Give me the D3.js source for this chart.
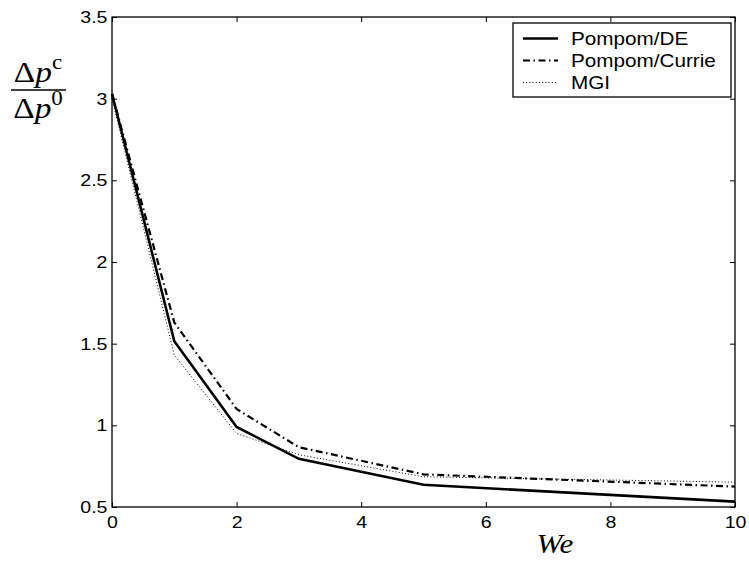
<!DOCTYPE html>
<html>
<head>
<meta charset="utf-8">
<script src="https://cdn.jsdelivr.net/npm/d3@7"></script>
<style>
  body { margin: 0; background: #fff; }
  svg { font-family: "Liberation Sans", Arial, sans-serif; }
</style>
</head>
<body>
<div id="chart"></div>
<script>
// data
const weValues = [0, 1, 2, 3, 5, 10];
const pompomDE = [3.03, 1.515, 0.99, 0.795, 0.636, 0.533];
const pompomCurrie = [3.03, 1.63, 1.10, 0.866, 0.70, 0.625];
const mgi = [3.0, 1.43, 0.95, 0.82, 0.685, 0.652];
const xTicks = [0, 2, 4, 6, 8, 10];
const yTicks = [0.5, 1, 1.5, 2, 2.5, 3, 3.5];

const seriesList = [
  { name: "Pompom/DE", values: pompomDE, width: 2.6, dash: null },
  { name: "Pompom/Currie", values: pompomCurrie, width: 2.2, dash: "7,3.5,1.5,3.5" },
  { name: "MGI", values: mgi, width: 1, dash: "1,2.2" }
];

const W = 749, H = 563;
const margin = { top: 17, right: 14, bottom: 56, left: 112 };
const width = W - margin.left - margin.right;
const height = H - margin.top - margin.bottom;
const stretch = 1.15; // the reference text is a bit wide

const svg = d3.select("#chart").append("svg")
  .attr("width", W).attr("height", H);

const g = svg.append("g")
  .attr("transform", `translate(${margin.left},${margin.top})`);

const x = d3.scaleLinear().domain([0, 10]).range([0, width]);
const y = d3.scaleLinear().domain([0.5, 3.5]).range([height, 0]);

// axes, ticks pointing inward on all four sides
const styleAxis = sel => {
  sel.select(".domain").remove();
  sel.selectAll("line").attr("stroke", "#000").attr("stroke-width", 1);
  sel.selectAll("text")
    .style("font-size", "17px")
    .attr("fill", "#000")
    .attr("transform", `scale(${stretch},1)`);
};

g.append("g").attr("transform", `translate(0,${height})`)
  .call(d3.axisBottom(x).tickValues(xTicks).tickSizeInner(-5).tickPadding(9).tickFormat(d3.format("")))
  .call(styleAxis);
g.append("g")
  .call(d3.axisLeft(y).tickValues(yTicks).tickSizeInner(-5).tickPadding(4).tickFormat(d3.format("")))
  .call(styleAxis);
g.append("g")
  .call(d3.axisTop(x).tickValues(xTicks).tickSizeInner(-5).tickFormat(""))
  .call(styleAxis);
g.append("g").attr("transform", `translate(${width},0)`)
  .call(d3.axisRight(y).tickValues(yTicks).tickSizeInner(-5).tickFormat(""))
  .call(styleAxis);

g.append("rect")
  .attr("width", width).attr("height", height)
  .attr("fill", "none").attr("stroke", "#000").attr("stroke-width", 1.3);

// lines
const line = d3.line().x((d, i) => x(weValues[i])).y(d => y(d));
seriesList.forEach(s => {
  g.append("path")
    .datum(s.values)
    .attr("d", line)
    .attr("fill", "none")
    .attr("stroke", "#000")
    .attr("stroke-width", s.width)
    .attr("stroke-dasharray", s.dash);
});

// legend
const legend = svg.append("g").attr("transform", "translate(513,23)");
legend.append("rect")
  .attr("width", 218).attr("height", 74)
  .attr("fill", "#fff").attr("stroke", "#000").attr("stroke-width", 1.3);
seriesList.forEach((s, i) => {
  const ly = 15.5 + i * 22;
  legend.append("line")
    .attr("x1", 10).attr("x2", 45).attr("y1", ly).attr("y2", ly)
    .attr("stroke", "#000").attr("stroke-width", s.width)
    .attr("stroke-dasharray", s.dash);
  legend.append("text")
    .attr("transform", `translate(58,${ly}) scale(${stretch},1)`)
    .attr("dy", "0.36em")
    .style("font-size", "18px")
    .text(s.name);
});

// x label
svg.append("text")
  .attr("transform", `translate(555,553) scale(${stretch},1)`)
  .attr("text-anchor", "middle")
  .style("font-family", "'Liberation Serif', 'DejaVu Serif', serif")
  .style("font-style", "italic")
  .style("font-size", "27px")
  .text("We");

// y label as a fraction Δp^c / Δp^0
const frac = svg.append("g").style("font-family", "'Liberation Serif', 'DejaVu Serif', serif");
const num = frac.append("text")
  .attr("transform", `translate(38,82) scale(${stretch},1)`)
  .attr("text-anchor", "middle").style("font-size", "29px");
num.append("tspan").text("Δ");
num.append("tspan").style("font-style", "italic").text("p");
num.append("tspan").attr("dy", -13).style("font-size", "20px").text("c");
frac.append("line")
  .attr("x1", 11).attr("x2", 66).attr("y1", 90).attr("y2", 90)
  .attr("stroke", "#000").attr("stroke-width", 1.4);
const den = frac.append("text")
  .attr("transform", `translate(38,118) scale(${stretch},1)`)
  .attr("text-anchor", "middle").style("font-size", "29px");
den.append("tspan").text("Δ");
den.append("tspan").style("font-style", "italic").text("p");
den.append("tspan").attr("dy", -13).style("font-size", "20px").text("0");
</script>
</body>
</html>
